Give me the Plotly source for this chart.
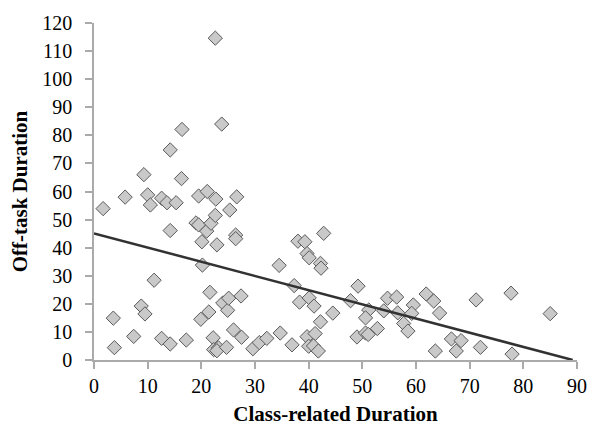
import plotly.graph_objects as go

class_related = [1.7, 3.6, 3.8, 5.8, 7.4, 8.8, 9.3, 9.5, 10.0, 10.5, 11.2, 12.6, 12.6, 13.6,
                 14.2, 14.2, 14.2, 15.3, 16.3, 16.4, 17.2, 19.0, 19.5, 19.5, 19.9, 20.2, 20.1,
                 21.1, 21.0, 21.4, 21.6, 21.8, 22.2, 22.3, 22.7, 22.6, 22.6, 22.9, 23.2, 22.9,
                 23.8, 24.0, 24.7, 24.9, 25.1, 25.3, 26.0, 26.4, 26.4, 26.6, 27.4, 27.5, 29.6,
                 30.8, 32.2, 34.5, 34.7, 36.9, 37.3, 38.0, 38.3, 39.3, 42.8, 39.7, 40.1, 42.2,
                 42.3, 40.1, 41.0, 44.5, 42.2, 39.7, 41.2, 40.0, 40.9, 41.8, 49.2, 47.8, 51.2,
                 50.6, 49.0, 50.6, 51.1, 52.8, 54.7, 54.0, 56.4, 56.6, 59.5, 59.2, 57.7, 58.5,
                 61.9, 63.3, 64.4, 63.6, 66.6, 67.5, 68.4, 71.2, 72.0, 77.7, 77.9, 85.0]
off_task = [53.9, 14.9, 4.4, 58.0, 8.4, 19.2, 66.0, 16.4, 58.8, 55.2, 28.4, 7.7, 57.6, 56.0,
            74.8, 46.1, 5.7, 56.0, 64.6, 82.1, 7.1, 48.8, 48.1, 58.4, 14.5, 33.8, 42.1,
            60.0, 45.9, 17.1, 24.1, 48.7, 7.9, 3.7, 57.3, 114.6, 51.5, 41.0, 4.3, 3.3,
            84.0, 20.3, 4.5, 17.7, 22.0, 53.4, 10.7, 44.5, 43.2, 58.1, 22.8, 8.1, 4.0,
            6.2, 7.7, 33.7, 9.6, 5.4, 26.5, 42.3, 20.6, 42.1, 45.1, 37.9, 36.4, 34.4,
            32.7, 22.1, 19.2, 16.7, 13.6, 8.3, 9.4, 4.9, 5.0, 3.2, 26.3, 21.1, 17.8,
            15.0, 8.2, 9.6, 9.1, 11.2, 22.0, 17.5, 22.4, 16.8, 19.6, 16.6, 13.0, 10.3,
            23.5, 21.0, 16.7, 3.2, 7.5, 3.2, 6.9, 21.4, 4.5, 23.8, 2.1, 16.5]

trend_x = [0, 89.2]
trend_y = [45.1, 0]

x_ticks = [0, 10, 20, 30, 40, 50, 60, 70, 80, 90]
y_ticks = [0, 10, 20, 30, 40, 50, 60, 70, 80, 90, 100, 110, 120]

FONT = "Liberation Serif, Times New Roman, serif"

fig = go.Figure()
fig.add_trace(go.Scatter(
    x=class_related, y=off_task, mode="markers",
    marker=dict(symbol="diamond", size=11, color="rgb(201,201,201)",
                line=dict(color="rgb(90,90,90)", width=1)),
    showlegend=False, cliponaxis=False))
fig.add_trace(go.Scatter(
    x=trend_x, y=trend_y, mode="lines",
    line=dict(color="rgb(50,50,50)", width=2.5),
    showlegend=False))

fig.update_layout(
    width=589, height=426,
    margin=dict(l=94, r=12, t=23, b=66),
    paper_bgcolor="white", plot_bgcolor="white",
    font=dict(family=FONT, size=20, color="black"),
    xaxis=dict(range=[0, 90], tickvals=x_ticks, showgrid=False, zeroline=False,
               automargin=False,
               showline=True, linecolor="rgb(170,170,170)", linewidth=1.5,
               ticks="outside", ticklen=7, tickcolor="rgb(170,170,170)", tickwidth=1.5,
               tickfont=dict(family=FONT, size=20),
               title=dict(text="<b>Class-related Duration</b>", standoff=17,
                          font=dict(family=FONT, size=21))),
    yaxis=dict(range=[0, 120], tickvals=y_ticks, showgrid=False, zeroline=False,
               automargin=False, ticklabelstandoff=9,
               showline=True, linecolor="rgb(170,170,170)", linewidth=1.5,
               ticks="outside", ticklen=7, tickcolor="rgb(170,170,170)", tickwidth=1.5,
               tickfont=dict(family=FONT, size=20),
               title=dict(text="<b>Off-task Duration</b>", standoff=9,
                          font=dict(family=FONT, size=21))),
)

fig.write_html(
    "out.html",
    config={"displayModeBar": False},
    post_script="document.body.style.margin='0';document.body.style.overflow='hidden';",
)
